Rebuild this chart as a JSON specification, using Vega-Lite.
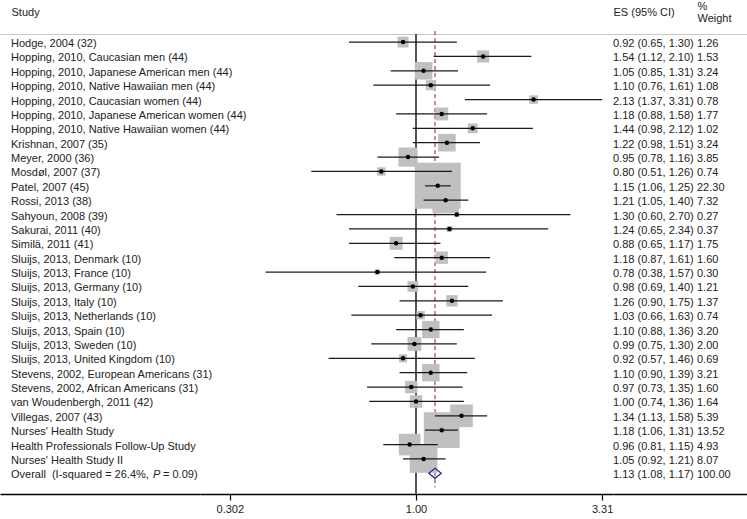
{
  "$schema": "https://vega.github.io/schema/vega-lite/v6.json",
  "padding": 0,
  "autosize": {"type": "pad"},
  "spacing": 0,
  "bounds": "flush",
  "config": {
    "view": {"stroke": null},
    "font": "Liberation Sans",
    "axis": {"grid": false, "labelFont": "Liberation Sans", "labelAngle": 0}
  },
  "data": {
    "values": [
      {"i": 1, "study": "Hodge, 2004 (32)", "es": 0.92, "lo": 0.65, "hi": 1.30, "ci": "0.92 (0.65, 1.30)", "w": 1.26},
      {"i": 2, "study": "Hopping, 2010, Caucasian men (44)", "es": 1.54, "lo": 1.12, "hi": 2.10, "ci": "1.54 (1.12, 2.10)", "w": 1.53},
      {"i": 3, "study": "Hopping, 2010, Japanese American men (44)", "es": 1.05, "lo": 0.85, "hi": 1.31, "ci": "1.05 (0.85, 1.31)", "w": 3.24},
      {"i": 4, "study": "Hopping, 2010, Native Hawaiian men (44)", "es": 1.10, "lo": 0.76, "hi": 1.61, "ci": "1.10 (0.76, 1.61)", "w": 1.08},
      {"i": 5, "study": "Hopping, 2010, Caucasian women (44)", "es": 2.13, "lo": 1.37, "hi": 3.31, "ci": "2.13 (1.37, 3.31)", "w": 0.78},
      {"i": 6, "study": "Hopping, 2010, Japanese American women (44)", "es": 1.18, "lo": 0.88, "hi": 1.58, "ci": "1.18 (0.88, 1.58)", "w": 1.77},
      {"i": 7, "study": "Hopping, 2010, Native Hawaiian women (44)", "es": 1.44, "lo": 0.98, "hi": 2.12, "ci": "1.44 (0.98, 2.12)", "w": 1.02},
      {"i": 8, "study": "Krishnan, 2007 (35)", "es": 1.22, "lo": 0.98, "hi": 1.51, "ci": "1.22 (0.98, 1.51)", "w": 3.24},
      {"i": 9, "study": "Meyer, 2000 (36)", "es": 0.95, "lo": 0.78, "hi": 1.16, "ci": "0.95 (0.78, 1.16)", "w": 3.85},
      {"i": 10, "study": "Mosdøl, 2007 (37)", "es": 0.80, "lo": 0.51, "hi": 1.26, "ci": "0.80 (0.51, 1.26)", "w": 0.74},
      {"i": 11, "study": "Patel, 2007 (45)", "es": 1.15, "lo": 1.06, "hi": 1.25, "ci": "1.15 (1.06, 1.25)", "w": 22.30},
      {"i": 12, "study": "Rossi, 2013 (38)", "es": 1.21, "lo": 1.05, "hi": 1.40, "ci": "1.21 (1.05, 1.40)", "w": 7.32},
      {"i": 13, "study": "Sahyoun, 2008 (39)", "es": 1.30, "lo": 0.60, "hi": 2.70, "ci": "1.30 (0.60, 2.70)", "w": 0.27},
      {"i": 14, "study": "Sakurai, 2011 (40)", "es": 1.24, "lo": 0.65, "hi": 2.34, "ci": "1.24 (0.65, 2.34)", "w": 0.37},
      {"i": 15, "study": "Similä, 2011 (41)", "es": 0.88, "lo": 0.65, "hi": 1.17, "ci": "0.88 (0.65, 1.17)", "w": 1.75},
      {"i": 16, "study": "Sluijs, 2013, Denmark (10)", "es": 1.18, "lo": 0.87, "hi": 1.61, "ci": "1.18 (0.87, 1.61)", "w": 1.60},
      {"i": 17, "study": "Sluijs, 2013, France (10)", "es": 0.78, "lo": 0.38, "hi": 1.57, "ci": "0.78 (0.38, 1.57)", "w": 0.30},
      {"i": 18, "study": "Sluijs, 2013, Germany (10)", "es": 0.98, "lo": 0.69, "hi": 1.40, "ci": "0.98 (0.69, 1.40)", "w": 1.21},
      {"i": 19, "study": "Sluijs, 2013, Italy (10)", "es": 1.26, "lo": 0.90, "hi": 1.75, "ci": "1.26 (0.90, 1.75)", "w": 1.37},
      {"i": 20, "study": "Sluijs, 2013, Netherlands (10)", "es": 1.03, "lo": 0.66, "hi": 1.63, "ci": "1.03 (0.66, 1.63)", "w": 0.74},
      {"i": 21, "study": "Sluijs, 2013, Spain (10)", "es": 1.10, "lo": 0.88, "hi": 1.36, "ci": "1.10 (0.88, 1.36)", "w": 3.20},
      {"i": 22, "study": "Sluijs, 2013, Sweden (10)", "es": 0.99, "lo": 0.75, "hi": 1.30, "ci": "0.99 (0.75, 1.30)", "w": 2.00},
      {"i": 23, "study": "Sluijs, 2013, United Kingdom (10)", "es": 0.92, "lo": 0.57, "hi": 1.46, "ci": "0.92 (0.57, 1.46)", "w": 0.69},
      {"i": 24, "study": "Stevens, 2002, European Americans (31)", "es": 1.10, "lo": 0.90, "hi": 1.39, "ci": "1.10 (0.90, 1.39)", "w": 3.21},
      {"i": 25, "study": "Stevens, 2002, African Americans (31)", "es": 0.97, "lo": 0.73, "hi": 1.35, "ci": "0.97 (0.73, 1.35)", "w": 1.60},
      {"i": 26, "study": "van Woudenbergh, 2011 (42)", "es": 1.00, "lo": 0.74, "hi": 1.36, "ci": "1.00 (0.74, 1.36)", "w": 1.64},
      {"i": 27, "study": "Villegas, 2007 (43)", "es": 1.34, "lo": 1.13, "hi": 1.58, "ci": "1.34 (1.13, 1.58)", "w": 5.39},
      {"i": 28, "study": "Nurses' Health Study", "es": 1.18, "lo": 1.06, "hi": 1.31, "ci": "1.18 (1.06, 1.31)", "w": 13.52},
      {"i": 29, "study": "Health Professionals Follow-Up Study", "es": 0.96, "lo": 0.81, "hi": 1.15, "ci": "0.96 (0.81, 1.15)", "w": 4.93},
      {"i": 30, "study": "Nurses' Health Study II", "es": 1.05, "lo": 0.92, "hi": 1.21, "ci": "1.05 (0.92, 1.21)", "w": 8.07},
      {"i": 31, "study": "Overall\u00a0 (I-squared = 26.4%,", "es": 1.13, "lo": 1.08, "hi": 1.17, "ci": "1.13 (1.08, 1.17)", "w": 100.00, "pooled": true, "it": "P", "tail": "= 0.09)"}
    ]
  },
  "hconcat": [
    {
      "width": 200,
      "height": 460,
      "layer": [
        {
          "mark": {"type": "text", "align": "left", "baseline": "middle", "fontSize": 11, "color": "#222222", "dy": 2},
          "encoding": {
            "x": {"datum": "Study", "type": "nominal", "scale": {"type": "point", "padding": 0, "align": 0.055, "round": false},
                  "axis": {"orient": "top", "title": null, "ticks": false, "tickSize": 0, "domainColor": "#c8c8c8", "domainWidth": 1, "labelAngle": 0, "labelAlign": "left", "labelBaseline": "middle", "labelPadding": 22, "labelFontSize": 11, "labelColor": "#222222", "labelBound": false, "labelFlush": false, "labelOverlap": false}},
            "y": {"field": "i", "type": "ordinal", "scale": {"type": "point", "padding": 1.393, "align": 0.281, "round": false}, "axis": null},
            "text": {"field": "study"}
          }
        },
        {
          "transform": [{"filter": "datum.pooled"}],
          "mark": {"type": "text", "align": "left", "baseline": "middle", "fontSize": 11, "fontStyle": "italic", "color": "#222222", "dx": 142, "dy": 2},
          "encoding": {
            "x": {"datum": "Study", "type": "nominal",
                  "axis": {"orient": "bottom", "title": null, "labels": false, "ticks": false, "tickSize": 0, "domainColor": "#000000", "domainWidth": 1.3}},
            "y": {"field": "i", "type": "ordinal", "axis": null},
            "text": {"field": "it"}
          }
        },
        {
          "transform": [{"filter": "datum.pooled"}],
          "mark": {"type": "text", "align": "left", "baseline": "middle", "fontSize": 11, "color": "#222222", "dx": 152, "dy": 2},
          "encoding": {
            "x": {"datum": "Study", "type": "nominal", "axis": null},
            "y": {"field": "i", "type": "ordinal", "axis": null},
            "text": {"field": "tail"}
          }
        }
      ],
      "resolve": {"axis": {"x": "independent"}}
    },
    {
      "width": 413,
      "height": 460,
      "layer": [
        {
          "mark": {"type": "rule", "color": "#555555", "strokeWidth": 1.4},
          "encoding": {
            "x": {"datum": 1, "type": "quantitative", "scale": {"type": "log", "domain": [0.24931, 3.5497], "nice": false},
                  "axis": {"orient": "top", "title": null, "labels": false, "ticks": false, "tickSize": 0, "domainColor": "#c8c8c8", "domainWidth": 1}}
          }
        },
        {
          "transform": [
            {"joinaggregate": [{"op": "min", "field": "i", "as": "i0"}]},
            {"filter": "datum.pooled"}
          ],
          "mark": {"type": "rule", "color": "#8a1f2f", "strokeWidth": 1, "strokeDash": [4, 3], "yOffset": -11, "y2Offset": 14},
          "encoding": {
            "x": {"field": "es", "type": "quantitative", "scale": {"type": "log", "domain": [0.24931, 3.5497], "nice": false}, "axis": null},
            "y": {"field": "i0", "type": "ordinal", "axis": null},
            "y2": {"field": "i"}
          }
        },
        {
          "transform": [{"filter": "!datum.pooled"}],
          "mark": {"type": "square", "color": "#c0c0c0", "opacity": 1, "filled": true},
          "encoding": {
            "x": {"field": "es", "type": "quantitative", "scale": {"type": "log", "domain": [0.24931, 3.5497], "nice": false},
                  "axis": {"orient": "bottom", "title": null, "values": [0.302, 1, 3.31], "format": ".3g", "domainColor": "#000000", "domainWidth": 1.3, "tickColor": "#000000", "tickWidth": 1.2, "tickSize": 6, "labelFontSize": 11, "labelColor": "#222222", "labelPadding": 3, "labelFlush": false, "labelOverlap": false}},
            "y": {"field": "i", "type": "ordinal", "scale": {"type": "point", "padding": 1.393, "align": 0.281, "round": false}, "axis": null},
            "size": {"field": "w", "type": "quantitative", "scale": {"type": "linear", "domain": [0, 22.3], "range": [0, 2116], "zero": true}, "legend": null}
          }
        },
        {
          "transform": [{"filter": "!datum.pooled"}],
          "mark": {"type": "rule", "color": "#1a1a1a", "strokeWidth": 1.2},
          "encoding": {
            "x": {"field": "lo", "type": "quantitative", "scale": {"type": "log", "domain": [0.24931, 3.5497], "nice": false}, "axis": null},
            "x2": {"field": "hi"},
            "y": {"field": "i", "type": "ordinal", "axis": null}
          }
        },
        {
          "transform": [{"filter": "!datum.pooled"}],
          "mark": {"type": "circle", "color": "#000000", "opacity": 1, "size": 20},
          "encoding": {
            "x": {"field": "es", "type": "quantitative", "scale": {"type": "log", "domain": [0.24931, 3.5497], "nice": false}, "axis": null},
            "y": {"field": "i", "type": "ordinal", "axis": null}
          }
        },
        {
          "transform": [{"filter": "datum.pooled"}],
          "mark": {"type": "point", "shape": "M-1,0L0,-0.8L1,0L0,0.8Z", "filled": false, "stroke": "#2e2a86", "strokeWidth": 1.3, "opacity": 1, "size": 154},
          "encoding": {
            "x": {"field": "es", "type": "quantitative", "scale": {"type": "log", "domain": [0.24931, 3.5497], "nice": false}, "axis": null},
            "y": {"field": "i", "type": "ordinal", "axis": null}
          }
        }
      ],
      "resolve": {"axis": {"x": "independent"}}
    },
    {
      "width": 134,
      "height": 460,
      "layer": [
        {
          "mark": {"type": "text", "align": "left", "baseline": "middle", "fontSize": 11, "color": "#222222", "dy": 2},
          "encoding": {
            "x": {"datum": "es", "type": "nominal", "scale": {"type": "point", "domain": ["es", "w"], "padding": 0.2976, "align": 0, "round": false},
                  "axis": {"orient": "top", "ticks": false, "tickSize": 0, "domainColor": "#c8c8c8", "domainWidth": 1, "labelAngle": 0, "labelAlign": "left",
                           "labelBaseline": {"condition": {"test": "datum.value == 'w'", "value": "top"}, "value": "middle"},
                           "labelPadding": 22, "labelFontSize": 11, "labelColor": "#222222", "labelBound": false, "labelFlush": false, "labelOverlap": false,
                           "labelExpr": "datum.value == 'es' ? 'ES (95% CI)' : 'Weight'",
                           "title": "%", "titleX": 84, "titleY": -28, "titleAlign": "left", "titleAngle": 0, "titleBaseline": "middle", "titleFont": "Liberation Sans", "titleFontSize": 11, "titleFontWeight": "normal", "titleColor": "#222222"}},
            "y": {"field": "i", "type": "ordinal", "scale": {"type": "point", "padding": 1.393, "align": 0.281, "round": false}, "axis": null},
            "text": {"field": "ci"}
          }
        },
        {
          "mark": {"type": "text", "align": "left", "baseline": "middle", "fontSize": 11, "color": "#222222", "dy": 2},
          "encoding": {
            "x": {"datum": "w", "type": "nominal",
                  "axis": {"orient": "bottom", "title": null, "labels": false, "ticks": false, "tickSize": 0, "domainColor": "#000000", "domainWidth": 1.3}},
            "y": {"field": "i", "type": "ordinal", "axis": null},
            "text": {"field": "w", "type": "quantitative", "format": ".2f"}
          }
        }
      ],
      "resolve": {"axis": {"x": "independent"}}
    }
  ]
}
